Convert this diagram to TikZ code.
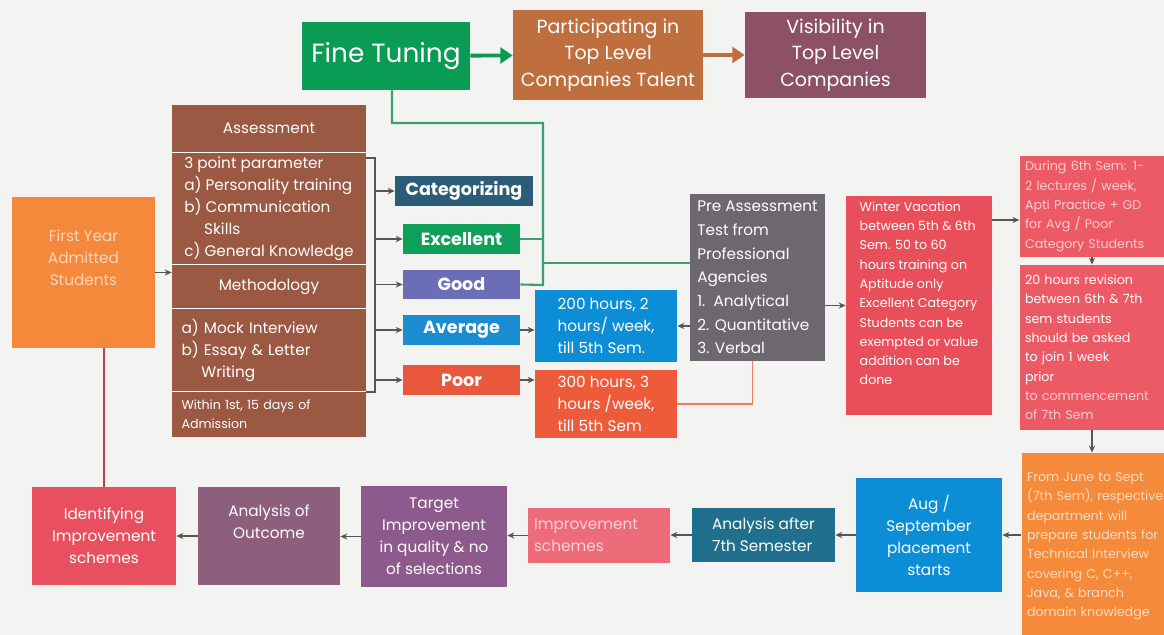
\documentclass[tikz,border=0pt]{standalone}
\usepackage{fontspec}
\setmainfont{Poppins}
\usetikzlibrary{arrows.meta,positioning,calc}
\definecolor{bgW}{RGB}{243,244,242}
\definecolor{fineG}{RGB}{10,155,85}
\definecolor{partB}{RGB}{191,110,62}
\definecolor{visM}{RGB}{140,81,103}
\definecolor{firstO}{RGB}{245,137,59}
\definecolor{brownB}{RGB}{155,88,67}
\definecolor{catT}{RGB}{43,92,120}
\definecolor{excG}{RGB}{14,159,88}
\definecolor{goodP}{RGB}{107,109,181}
\definecolor{avgB}{RGB}{26,140,208}
\definecolor{poorR}{RGB}{233,87,60}
\definecolor{hrsB}{RGB}{12,142,214}
\definecolor{hrsR}{RGB}{238,91,59}
\definecolor{preG}{RGB}{109,103,112}
\definecolor{winR}{RGB}{233,79,90}
\definecolor{pinkR}{RGB}{236,90,102}
\definecolor{juneO}{RGB}{245,138,58}
\definecolor{anaT}{RGB}{31,111,141}
\definecolor{imprP}{RGB}{238,107,122}
\definecolor{targP}{RGB}{141,90,141}
\definecolor{outcM}{RGB}{142,94,125}
\definecolor{identR}{RGB}{232,80,95}
\definecolor{arrG}{RGB}{85,85,85}
\definecolor{lineG}{RGB}{58,160,112}
\newcommand\ftFine{\fontsize{15}{18}\selectfont}
\newcommand\ftBig{\fontsize{10.8}{15}\selectfont}
\newcommand\ftCat{\fontsize{10}{12}\selectfont\bfseries}
\newcommand\ftMid{\fontsize{8.7}{12.5}\selectfont}
\newcommand\ftSm{\fontsize{7.2}{11}\selectfont}

\begin{document}
\begin{tikzpicture}[x=0.02cm,y=-0.02cm,
  bx/.style={rectangle,fill=#1,text=white,inner sep=3pt,align=center},
  cat/.style={bx=#1,minimum width=2.34cm,minimum height=0.6cm,font=\ftCat},
  sec/.style={bx=brownB,minimum width=3.88cm,font=\ftMid},
  arr/.style={-{Stealth[length=4pt,width=3.5pt]},draw=arrG,line width=0.7pt},
  gline/.style={draw=lineG,line width=1.2pt}]
  \fill[bgW] (0,0) rectangle (1164,635);
  \useasboundingbox (0,0) rectangle (1164,635);
  \clip (0,0) rectangle (1164,635);
  \node[bx=fineG,minimum width=3.36cm,minimum height=1.36cm,font=\ftFine] (fine) at (386,56) {Fine Tuning};
  \node[bx=partB,minimum width=3.8cm,minimum height=1.8cm,font=\ftBig] (part) at (608,55) {Participating in\\Top Level\\Companies Talent};
  \node[bx=visM,minimum width=3.62cm,minimum height=1.72cm,font=\ftBig] (vis) at (835.5,55) {Visibility in\\Top Level\\Companies};
  \node[bx=firstO,minimum width=2.86cm,minimum height=3.02cm,font=\ftMid,text=firstO!35!white] (first) at (83.5,272.5) {First Year\\Admitted\\Students\\[4pt]};
  \node[sec,minimum height=0.94cm] (hdrA) at (269,128.5) {Assessment};
  \node[sec,minimum height=2.26cm,align=left] (parA) at (269,208.5) {3 point parameter\\a) Personality training\\b) Communication\\\hspace*{1.3em}Skills\\c) General Knowledge};
  \node[sec,minimum height=0.86cm] (hdrM) at (269,286.5) {Methodology};
  \node[sec,minimum height=1.68cm,align=left,text width=3.5cm] (parM) at (269,350) {a) Mock Interview\\b) Essay \& Letter\\\hspace*{1.3em}Writing};
  \node[sec,minimum height=0.9cm,align=left,text width=3.5cm,font=\ftSm] (within) at (269,414.5) {Within 1st, 15 days of\\Admission};
  \draw[white,line width=0.6pt] (hdrA.south west) -- (hdrA.south east);
  \draw[white,line width=0.6pt] (hdrM.north west) -- (hdrM.north east);
  \draw[white,line width=0.6pt] (hdrM.south west) -- (hdrM.south east);
  \draw[white,line width=0.6pt] (within.north west) -- (within.north east);
  \node[cat=catT,minimum width=2.76cm] (categ) at (464,191) {Categorizing};
  \node[cat=excG] (exc) at (461.5,239) {Excellent};
  \node[cat=goodP] (good) at (461.5,284.5) {Good};
  \node[cat=avgB] (avg) at (461.5,330) {Average};
  \node[cat=poorR] (poor) at (461.5,380) {Poor};
  \node[bx=hrsB,minimum width=2.84cm,minimum height=1.44cm,font=\ftMid,align=left] (h200) at (606,326) {200 hours, 2\\hours/ week,\\till 5th Sem.};
  \node[bx=hrsR,minimum width=2.84cm,minimum height=1.36cm,font=\ftMid,align=left] (h300) at (606,404) {300 hours, 3\\hours /week,\\till 5th Sem};
  \node[bx=preG,minimum width=2.7cm,minimum height=3.34cm,font=\fontsize{8.7}{13.5}\selectfont,align=left] (pre) at (757.5,277.5) {Pre Assessment\\Test from\\Professional\\Agencies\\1.\ \ Analytical\\2. Quantitative\\3. Verbal};
  \node[bx=winR,minimum width=2.92cm,minimum height=4.22cm,font=\ftSm,align=left] (winter) at (919,305.5) {Winter Vacation\\between 5th \& 6th\\Sem. 50 to 60\\hours training on\\Aptitude only\\Excellent Category\\Students can be\\exempted or value\\addition can be\\done\\[3pt]};
  \node[bx=pinkR,minimum width=3.6cm,minimum height=1.54cm,font=\ftSm,align=left,text width=3.4cm,text=pinkR!30!white] (during) at (1110,206.5) {During 6th Sem: 1-\\2 lectures / week,\\Apti Practice + GD\\for Avg / Poor\\Category Students};
  \node[bx=pinkR,minimum width=3.6cm,minimum height=3.3cm,font=\ftSm,align=left,text width=3.4cm] (rev) at (1110,347.5) {20 hours revision\\between 6th \& 7th\\sem students\\should be asked\\to join 1 week\\prior\\{\color{pinkR!30!white}to commencement}\\{\color{pinkR!30!white}of 7th Sem}};
  \node[bx=juneO,minimum width=3.6cm,minimum height=3.74cm,font=\ftSm,align=left,text width=3.4cm,text=juneO!30!white] (june) at (1112,546.5) {From June to Sept\\(7th Sem), respective\\department will\\prepare students for\\Technical Interview\\covering C, C++,\\Java, \& branch\\domain knowledge\\[10pt]};
  \node[bx=hrsB,minimum width=2.92cm,minimum height=2.28cm,font=\ftMid] (aug) at (929,535) {Aug /\\September\\placement\\starts};
  \node[bx=anaT,minimum width=2.86cm,minimum height=1.08cm,font=\ftMid,align=left] (anal) at (763.5,535) {Analysis after\\7th Semester};
  \node[bx=imprP,minimum width=2.84cm,minimum height=1.1cm,font=\ftMid,align=left,text width=2.6cm,text=imprP!30!white] (impr) at (599,535.5) {Improvement\\schemes};
  \node[bx=targP,minimum width=2.92cm,minimum height=2.02cm,font=\ftMid] (target) at (434,536.5) {Target\\Improvement\\in quality \& no\\of selections};
  \node[bx=outcM,minimum width=2.84cm,minimum height=1.96cm,font=\ftMid] (outc) at (269,536) {Analysis of\\Outcome\\[4pt]};
  \node[bx=identR,minimum width=2.88cm,minimum height=1.96cm,font=\ftMid] (ident) at (104,536) {Identifying\\Improvement\\schemes};
  \draw[-{Triangle[length=7pt,width=9pt]},draw=fineG,line width=2.2pt] (fine) -- (part);
  \draw[-{Triangle[length=7pt,width=9pt]},draw=partB,line width=2.2pt] (part) -- (vis);
  \coordinate (gtop) at (543,123);
  \coordinate (gmid) at (543,263);
  \coordinate (gbot) at (543,285);
  \draw[gline] ([xshift=0.12cm]fine.south) |- (gtop) -- (gbot) -- (good.east);
  \draw[gline] (exc.east) -- (exc.east -| gtop);
  \draw[gline] (gmid) -- (gmid -| pre.west);
  \coordinate (brt) at (375,158);
  \coordinate (brb) at (375,392);
  \draw[draw=arrG,line width=0.7pt] (parA.east |- brt) -- (brt) -- (brb) -- (within.east |- brb);
  \foreach \c in {categ,exc,good,avg,poor}
    \draw[arr] (brt |- \c) -- (\c.west);
  \draw[arr] (first.east) -- (parA.west |- first.east);
  \draw[draw=identR!80!black,line width=1pt] (ident.north |- first.south) -- (ident.north);
  \draw[arr] (avg.east) -- (avg.east -| h200.west);
  \draw[arr] (poor.east) -- (poor.east -| h300.west);
  \draw[arr] (pre.west |- h200.east) -- (h200.east);
  \draw[draw=hrsR!80!white,line width=1pt] (h300.east) -| ([xshift=-0.1cm]pre.south);
  \draw[arr] (pre.east |- winter.west) -- (winter.west);
  \draw[arr] (winter.east |- 0,220) -- (during.west |- 0,220);
  \draw[arr] (during.south -| 1092,0) -- (rev.north -| 1092,0);
  \draw[arr] (rev.south -| 1092,0) -- (june.north -| 1092,0);
  \draw[arr] (june.west |- aug.east) -- (aug.east);
  \draw[arr] (aug.west) -- (aug.west -| anal.east);
  \draw[arr] (anal.west) -- (anal.west -| impr.east);
  \draw[arr] (impr.west) -- (impr.west -| target.east);
  \draw[arr] (target.west) -- (target.west -| outc.east);
  \draw[arr] (outc.west) -- (outc.west -| ident.east);
\end{tikzpicture}
\end{document}
